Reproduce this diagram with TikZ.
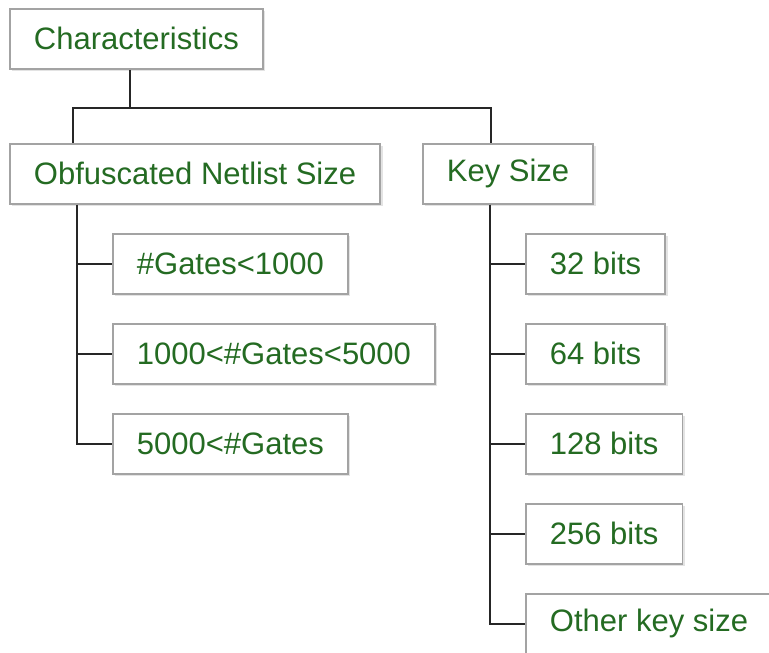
\documentclass[tikz,border=0pt]{standalone}
\usepackage{fontspec}
\setmainfont{Liberation Sans}
\usetikzlibrary{positioning,calc,shadows}
\definecolor{chrgreen}{HTML}{246B22}
\definecolor{chrgrey}{HTML}{A3A3A3}

\begin{document}
\begin{tikzpicture}[
  x=0.5pt, y=-0.5pt,
  box/.style={draw=chrgrey, line width=0.9pt, fill=white, anchor=north west,
              inner xsep=12pt, inner ysep=0pt, minimum height=30pt,
              text=chrgreen, font=\fontsize{15.5}{18}\selectfont,
              drop shadow={opacity=0.22, shadow xshift=1.2pt, shadow yshift=-1.2pt}},
  wire/.style={draw=black!85, line width=0.9pt},
]
\useasboundingbox (0,0) rectangle (769,652);

% ---------------- root and the two groups ---------------------------
\node[box] (chr) at (9,8)   {Characteristics};
\node[box] (ons) at (9,143) {Obfuscated Netlist Size};
\node[box] (key) at (422,143) {Key Size};

% ---------------- netlist sizes -------------------------------------
\node[box] (g1) at (112,233) {\#Gates<1000};
\node[box] (g2) at (112,323) {1000<\#Gates<5000};
\node[box] (g3) at (112,413) {5000<\#Gates};

% ---------------- key sizes -----------------------------------------
\node[box] (k1) at (525,233) {32 bits};
\node[box] (k2) at (525,323) {64 bits};
\node[box] (k3) at (525,413) {128 bits};
\node[box] (k4) at (525,503) {256 bits};
\node[box] (k5) at (525,593) {Other key size};

% ---------------- connectors ----------------------------------------
\draw[wire] ([xshift=60.5pt]chr.south west) -- ++(0,38)
  coordinate (split) -| ([xshift=32pt]ons.north west);
\draw[wire] (split) -| ([xshift=34.5pt]key.north west);

\foreach \n in {g1,g2,g3}
  \draw[wire] ([xshift=34pt]ons.south west) |- (\n.west);
\foreach \n in {k1,k2,k3,k4,k5}
  \draw[wire] ([xshift=34pt]key.south west) |- (\n.west);

\end{tikzpicture}
\end{document}
